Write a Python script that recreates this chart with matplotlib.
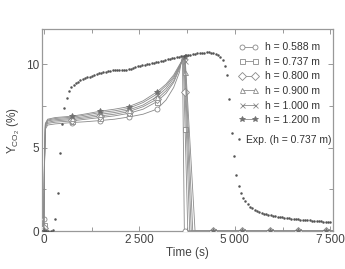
import numpy as np
import matplotlib
matplotlib.use("Agg")
import matplotlib.pyplot as plt
from matplotlib.ticker import MultipleLocator, FuncFormatter

plt.rcParams["font.family"] = ["Liberation Sans", "DejaVu Sans"]
plt.rcParams["mathtext.fontset"] = "custom"
plt.rcParams["mathtext.rm"] = "Liberation Sans"

# ---- simulated curves ----
t_rise = [0, 15, 40, 100, 300, 740, 1100, 1480, 1850, 2220, 2600, 2960, 3200, 3400, 3550]
y_rise_0588 = [0.75, 3.5, 6.1, 6.35, 6.42, 6.50, 6.55, 6.62, 6.70, 6.83, 7.00, 7.30, 7.85, 8.60, 9.50]
y_rise_0737 = [0.35, 3.6, 6.2, 6.45, 6.52, 6.60, 6.70, 6.80, 6.90, 7.05, 7.30, 7.75, 8.25, 8.90, 9.70]
y_rise_0800 = [0.20, 3.7, 6.3, 6.52, 6.60, 6.68, 6.78, 6.90, 7.00, 7.15, 7.45, 7.90, 8.40, 9.00, 9.80]
y_rise_0900 = [0.10, 3.8, 6.35, 6.60, 6.67, 6.75, 6.86, 7.00, 7.10, 7.25, 7.55, 8.05, 8.55, 9.15, 9.85]
y_rise_1000 = [0.05, 3.9, 6.4, 6.65, 6.74, 6.82, 6.95, 7.10, 7.20, 7.35, 7.70, 8.20, 8.70, 9.25, 9.90]
y_rise_1200 = [0.00, 4.0, 6.45, 6.70, 6.80, 6.88, 7.02, 7.18, 7.30, 7.45, 7.80, 8.33, 8.80, 9.35, 9.95]

# peak / drop section: times and values
t_drop_0588 = [3630, 3680, 3700]; y_drop_0588 = [10.5, 0.0, 0.0]
t_drop_0737 = [3650, 3700, 3770]; y_drop_0737 = [10.5, 6.1, 0.0]
t_drop_0800 = [3670, 3700, 3820]; y_drop_0800 = [10.5, 8.3, 0.0]
t_drop_0900 = [3685, 3700, 3860]; y_drop_0900 = [10.5, 9.5, 0.0]
t_drop_1000 = [3695, 3700, 3900]; y_drop_1000 = [10.45, 10.2, 0.0]
t_drop_1200 = [3690, 3700, 3960]; y_drop_1200 = [10.5, 10.4, 0.0]

t_tail = [4440, 5180, 5920, 6660, 7400, 7570]
y_tail = [0, 0, 0, 0, 0, 0]

mark_t = [0, 740, 1480, 2220, 2960, 3700, 4440, 5180, 5920, 6660, 7400]

labels = ["h = 0.588 m", "h = 0.737 m", "h = 0.800 m", "h = 0.900 m", "h = 1.000 m", "h = 1.200 m"]
rises = [y_rise_0588, y_rise_0737, y_rise_0800, y_rise_0900, y_rise_1000, y_rise_1200]
drops_t = [t_drop_0588, t_drop_0737, t_drop_0800, t_drop_0900, t_drop_1000, t_drop_1200]
drops_y = [y_drop_0588, y_drop_0737, y_drop_0800, y_drop_0900, y_drop_1000, y_drop_1200]
markers = ["o", "s", "D", "^", "x", "*"]

# ---- experiment (h = 0.737 m), one point every 60 s ----
exp_y = [0, 0, 0, 0, 0.05, 0.7, 2.3, 4.7, 6.4, 7.4, 8.0, 8.4, 8.6, 8.75, 8.85, 8.95,
         9.02, 9.08, 9.14, 9.2, 9.25, 9.3, 9.35, 9.4, 9.44, 9.48, 9.52, 9.55, 9.58, 9.6,
         9.62, 9.63, 9.65, 9.66, 9.66, 9.67, 9.66, 9.68, 9.72, 9.77, 9.82, 9.86, 9.9, 9.94,
         9.97, 10.0, 10.03, 10.06, 10.09, 10.12, 10.15, 10.18, 10.21, 10.24, 10.28, 10.31,
         10.35, 10.39, 10.42, 10.45, 10.48, 10.5, 10.52, 10.55, 10.57, 10.6, 10.62, 10.64,
         10.66, 10.68, 10.69, 10.7, 10.7, 10.69, 10.66, 10.62, 10.55, 10.45, 10.25, 9.9,
         9.35, 7.9, 5.9, 4.5, 3.35, 2.7, 2.3, 2.0, 1.78, 1.6, 1.46, 1.36, 1.28, 1.2, 1.14,
         1.09, 1.05, 1.01, 0.98, 0.95, 0.92, 0.89, 0.87, 0.85, 0.83, 0.81, 0.79, 0.77,
         0.75, 0.74, 0.72, 0.71, 0.69, 0.68, 0.67, 0.66, 0.65, 0.63, 0.62, 0.61, 0.6,
         0.58, 0.57, 0.56, 0.55, 0.54]
exp_t = np.arange(len(exp_y)) * 60

GREY = "#8a8a8a"
fig = plt.figure(figsize=(3.45, 2.69), dpi=100)
ax = fig.add_axes([0.122, 0.141, 0.843, 0.751])

handles = []
for lab, yr, td, yd, mk in zip(labels, rises, drops_t, drops_y, markers):
    t = np.array(t_rise + td + t_tail, dtype=float)
    y = np.array(yr + yd + y_tail, dtype=float)
    idx = [int(np.argmin(np.abs(t - m))) for m in mark_t]
    filled = mk == "*"
    h, = ax.plot(t, y, color=GREY, lw=0.6, marker=mk, markevery=idx,
                 ms=4 if filled else 3.6, mfc="#707070" if filled else "white",
                 mec="#707070" if filled else GREY, mew=0.6, label=lab, zorder=3)
    handles.append(h)

he, = ax.plot(exp_t, exp_y, ls="none", marker=".", ms=1.6, color="#555555",
              label="Exp. (h = 0.737 m)", zorder=4)

ax.set_xlim(-45, 7570)
ax.set_ylim(0, 12.1)
ax.xaxis.set_major_locator(MultipleLocator(2500))
ax.xaxis.set_minor_locator(MultipleLocator(1250))
ax.yaxis.set_major_locator(MultipleLocator(5))
ax.yaxis.set_minor_locator(MultipleLocator(2.5))
ax.xaxis.set_major_formatter(FuncFormatter(
    lambda v, p: "0" if v == 0 else f"{int(v)//1000}\u2009{int(v)%1000:03d}"))
ax.tick_params(which="both", direction="in", top=True, right=True,
               color="#999999", labelcolor="#444444", labelsize=8.5, pad=2)
ax.tick_params(which="major", length=3.5, width=0.7)
ax.tick_params(which="minor", length=3, width=0.7)
for sp in ax.spines.values():
    sp.set_color("#999999"); sp.set_linewidth(0.9)

ax.set_xlabel("Time (s)", fontsize=8.5, color="#444444", labelpad=1)
ax.set_ylabel(r"$\mathregular{Y_{CO_2}}$ (%)", fontsize=8.5, color="#444444", labelpad=3)

leg1 = ax.legend(handles=handles, loc="upper right", bbox_to_anchor=(0.955, 0.935),
                 frameon=False, fontsize=7.5, numpoints=2, handlelength=1.9,
                 handletextpad=0.6, labelspacing=0.44, borderaxespad=0, borderpad=0)
for txt in leg1.get_texts():
    txt.set_color("#333333")
ax.add_artist(leg1)
leg2 = ax.legend(handles=[he], loc="upper right", bbox_to_anchor=(0.995, 0.475),
                 frameon=False, fontsize=7.5, numpoints=1, handlelength=0.5,
                 handletextpad=0.4, borderaxespad=0, borderpad=0)
for txt in leg2.get_texts():
    txt.set_color("#333333")

fig.savefig("out.png", dpi=100, facecolor="white")
